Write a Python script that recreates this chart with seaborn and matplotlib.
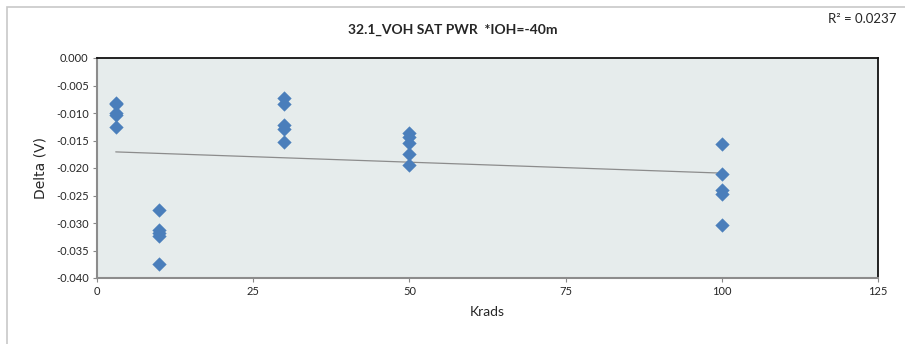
import matplotlib
matplotlib.use('Agg')
import matplotlib.pyplot as plt
import pandas as pd
import seaborn as sns
from matplotlib.patches import Rectangle

# Data
krads = [3, 3, 3, 3, 3,
         10, 10, 10, 10, 10,
         30, 30, 30, 30, 30,
         50, 50, 50, 50, 50,
         100, 100, 100, 100, 100]
delta = [-0.0081, -0.0084, -0.0100, -0.0103, -0.0126,
         -0.0277, -0.0312, -0.0318, -0.0324, -0.0375,
         -0.0072, -0.0083, -0.0122, -0.0129, -0.0153,
         -0.0136, -0.0143, -0.0155, -0.0174, -0.0195,
         -0.0157, -0.0211, -0.0240, -0.0248, -0.0304]
r_squared = 0.0237  # as printed on the chart
x_ticks = [0, 25, 50, 75, 100, 125]
y_ticks = [0.000, -0.005, -0.010, -0.015, -0.020, -0.025, -0.030, -0.035, -0.040]

df = pd.DataFrame({'Krads': krads, 'Delta': delta})

sns.set_style('white')
plt.rcParams['font.family'] = ['Lato', 'DejaVu Sans']

fig = plt.figure(figsize=(9.05, 3.44), dpi=100)
ax = fig.add_axes([97 / 905, 1 - 278 / 344, (878 - 97) / 905, (278 - 58) / 344])
ax.set_facecolor('#e6ecec')

# outer chart border
fig.patches.append(Rectangle((7 / 905, -0.1), 1, 1.08, transform=fig.transFigure,
                             fill=False, edgecolor='#c8c8c8', lw=1.2))

# linear trendline
sns.regplot(data=df, x='Krads', y='Delta', ax=ax, ci=None, scatter=False,
            line_kws={'color': '#8c8c8c', 'lw': 0.9})
sns.scatterplot(data=df, x='Krads', y='Delta', ax=ax, marker='D', s=48,
                color='#4a7ebb', edgecolor='#4a7ebb', linewidth=0.3, zorder=3)

ax.set_xlim(0, 125)
ax.set_ylim(-0.040, 0.000)
ax.set_xticks(x_ticks)
ax.set_yticks(y_ticks)
ax.set_xticklabels([str(t) for t in x_ticks], fontsize=8)
ax.set_yticklabels(['%.3f' % t for t in y_ticks], fontsize=8)
ax.tick_params(axis='both', length=3, width=0.8, color='#888888', direction='out',
               bottom=True, left=True, pad=3)

for side in ['top', 'right']:
    ax.spines[side].set_color('#111111')
    ax.spines[side].set_linewidth(1.3)
for side in ['bottom', 'left']:
    ax.spines[side].set_color('#8c8c8c')
    ax.spines[side].set_linewidth(1.5)

ax.set_xlabel('Krads', fontsize=10, labelpad=6)
ax.set_ylabel('Delta (V)', fontsize=10, family='DejaVu Sans', labelpad=6)
fig.text(0.5, 1 - 30 / 344, '32.1_VOH SAT PWR  *IOH=-40m', ha='center', va='center',
         fontsize=10, fontweight='bold')
fig.text(0.99, 1 - 19 / 344, 'R\u00b2 = %.4f' % r_squared, ha='right', va='center',
         fontsize=9.5)

fig.savefig('out.png', dpi=100)
